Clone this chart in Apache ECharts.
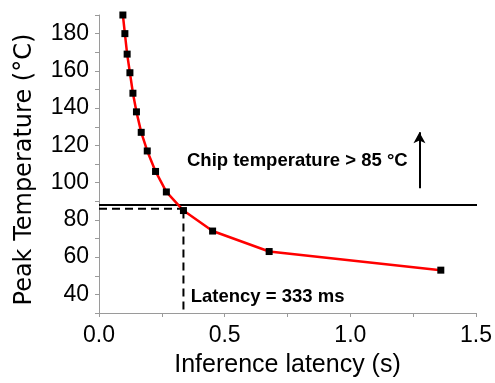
<!DOCTYPE html>
<html>
<head>
<meta charset="utf-8">
<script src="https://cdn.jsdelivr.net/npm/echarts@6/dist/echarts.min.js"></script>
<style>html,body{margin:0;padding:0;background:#fff}#c{width:495px;height:383px}</style>
</head>
<body>
<div id="c"></div>
<script>
// Data
var latency = [0.095, 0.103, 0.112, 0.123, 0.135, 0.149, 0.168, 0.192, 0.225, 0.268, 0.336, 0.452, 0.677, 1.36];
var peakTemp = [190, 180, 169, 159, 148, 138, 127, 117, 106, 95, 85, 74, 63, 53];
var xTicks = [0.0, 0.5, 1.0, 1.5];
var yTicks = [40, 60, 80, 100, 120, 140, 160, 180];
var limitTemp = 88;          // solid horizontal threshold line
var chosenLatency = 0.336;   // selected operating point
var chosenTemp = 85;
var dashTemp = 86;
var arrowX = 1.275, arrowFrom = 97, arrowTo = 127;
var chipLabel = 'Chip temperature > 85 °C';
var latLabel = 'Latency = 333 ms';
var yTitle = 'Peak Temperature (°C)';

var chart = echarts.init(document.getElementById('c'));
var FONT = 'Liberation Sans, Arial, sans-serif';
var grey = '#9a9a9a';

var option = {
  animation: false,
  grid: {left: 99, right: 19, top: 15, bottom: 64, containLabel: false},
  xAxis: {
    type: 'value', min: 0, max: 1.5, interval: 0.25,
    name: 'Inference latency (s)', nameLocation: 'middle', nameGap: 40,
    nameTextStyle: {fontFamily: FONT, fontSize: 25, color: '#000'},
    axisLine: {show: true, onZero: false, lineStyle: {color: grey, width: 1}},
    axisTick: {show: true, inside: false, length: 4, lineStyle: {color: grey}},
    splitLine: {show: false},
    axisLabel: {
      fontFamily: FONT, fontSize: 23, color: '#000', margin: 11,
      formatter: function (v) {
        for (var i = 0; i < xTicks.length; i++) if (Math.abs(v - xTicks[i]) < 1e-6) return xTicks[i].toFixed(1);
        return '';
      }
    }
  },
  yAxis: {
    type: 'value', min: 30, max: 190, interval: 10,
    axisLine: {show: true, onZero: false, lineStyle: {color: grey, width: 1}},
    axisTick: {show: true, inside: false, length: 4, lineStyle: {color: grey}},
    splitLine: {show: false},
    axisLabel: {
      fontFamily: FONT, fontSize: 23, color: '#000', margin: 10,
      formatter: function (v) { return yTicks.indexOf(Math.round(v)) >= 0 ? String(Math.round(v)) : ''; }
    }
  },
  series: [
    {
      type: 'line', data: [[0, limitTemp], [1.525, limitTemp]], clip: false,
      symbol: 'none', lineStyle: {color: '#000', width: 2}, z: 1, silent: true
    },
    {
      type: 'line', data: [[0, dashTemp], [chosenLatency - 0.01, dashTemp]], clip: false,
      symbol: 'none', lineStyle: {color: '#000', width: 2, type: [8, 5]}, z: 1, silent: true
    },
    {
      type: 'line', data: [[chosenLatency, chosenTemp], [chosenLatency, 30]], clip: false,
      symbol: 'none', lineStyle: {color: '#000', width: 2, type: [8, 5]}, z: 1, silent: true
    },
    {
      type: 'line',
      data: latency.map(function (x, i) { return [x, peakTemp[i]]; }),
      clip: false,
      lineStyle: {color: '#ff0000', width: 2.5},
      symbol: 'rect', symbolSize: 7,
      itemStyle: {color: '#000'}, z: 3,
      markLine: {
        silent: true, symbol: ['none', 'arrow'], symbolSize: [9, 11],
        label: {show: false},
        lineStyle: {color: '#000', width: 2, type: 'solid'},
        data: [[{coord: [arrowX, arrowFrom]}, {coord: [arrowX, arrowTo]}]]
      }
    }
  ]
};
chart.setOption(option);

var p1 = chart.convertToPixel({gridIndex: 0}, [0.35, 111.5]);
var p2 = chart.convertToPixel({gridIndex: 0}, [0.365, 38.5]);
var p3 = chart.convertToPixel({gridIndex: 0}, [-0.296, 107]);
chart.setOption({
  graphic: [
    {type: 'text', x: p1[0], y: p1[1], style: {text: chipLabel, font: 'bold 18.5px ' + FONT, fill: '#000', textAlign: 'left', textVerticalAlign: 'middle'}},
    {type: 'text', x: p2[0], y: p2[1], style: {text: latLabel, font: 'bold 18.5px ' + FONT, fill: '#000', textAlign: 'left', textVerticalAlign: 'middle'}},
    {type: 'text', x: p3[0], y: p3[1], rotation: Math.PI / 2, style: {text: yTitle, font: '24px DejaVu Sans, sans-serif', fill: '#000', textAlign: 'center', textVerticalAlign: 'middle'}}
  ]
});
</script>
</body>
</html>
